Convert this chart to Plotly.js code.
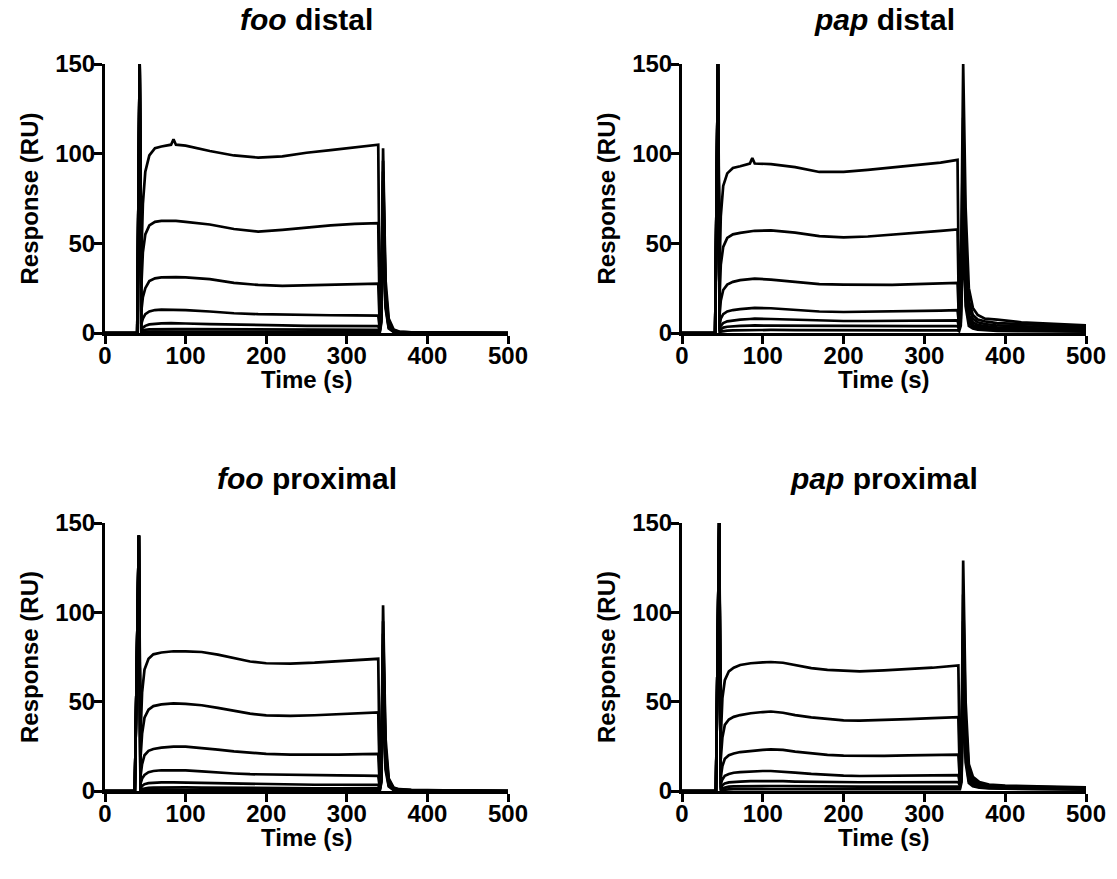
<!DOCTYPE html>
<html>
<head>
<meta charset="utf-8">
<script src="https://cdn.plot.ly/plotly-3.0.1.min.js"></script>
<style>
  html, body { margin: 0; padding: 0; background: #fff; }
  #chart { width: 1117px; height: 879px; }
</style>
</head>
<body>
<div id="chart"></div>
<script>
// ---------- Panel titles & axis labels ----------
const panelTitles = ["<i>foo</i> distal", "<i>pap</i> distal", "<i>foo</i> proximal", "<i>pap</i> proximal"];
const xLabel = "Time (s)";
const yLabel = "Response (RU)";
const xTicks = [0, 100, 200, 300, 400, 500];
const yTicks = [0, 50, 100, 150];

// ---------- foo distal (time, s; response, RU) ----------
const tFooDistal = [0, 30, 40, 43, 45, 47, 50, 55, 62, 70, 82, 85, 88, 100, 130, 160, 190, 220, 250, 280, 310, 339, 341, 343, 345, 348, 352, 358, 365, 380, 420, 460, 500];
const fooDistal1 = [0, 0, 0, 150, 40, 72, 90, 99, 103, 104, 105, 108, 105, 104.5, 101.5, 99, 97.8, 98.5, 100.5, 102, 103.5, 105, 3, 20, 103, 30, 8, 2, 0.8, 0.3, 0.2, 0.1, 0];
const fooDistal2 = [0, 0, 0, 150, 25, 45, 55, 60, 62, 62.5, 62.5, 62.5, 62.5, 62, 60.5, 58, 56.5, 57.5, 58.8, 60, 60.8, 61.3, 3, 18, 96, 25, 6, 1.5, 0.6, 0.3, 0.2, 0.1, 0];
const fooDistal3 = [0, 0, 0, 150, 12, 20, 25, 29, 30.5, 31, 31.2, 31.2, 31.2, 31, 30, 28, 26.8, 26.3, 26.5, 27, 27.2, 27.5, 2.5, 15, 90, 22, 5, 1.2, 0.5, 0.2, 0.1, 0, 0];
const fooDistal4 = [0, 0, 0, 150, 5, 8, 10.5, 12, 12.8, 13, 13, 13, 13, 12.8, 12, 11, 10.5, 10.2, 10, 9.9, 9.8, 9.7, 2, 12, 85, 20, 4, 1, 0.4, 0.2, 0.1, 0, 0];
const fooDistal5 = [0, 0, 0, 150, 2, 3, 4, 4.8, 5.2, 5.4, 5.5, 5.5, 5.5, 5.3, 5, 4.6, 4.3, 4.2, 4, 3.9, 3.8, 3.8, 1.5, 10, 80, 18, 3.5, 0.9, 0.3, 0.1, 0, 0, 0];
const fooDistal6 = [0, 0, 0, 150, 1, 1.4, 1.8, 2, 2.1, 2.2, 2.2, 2.2, 2.2, 2.2, 2.1, 2, 1.9, 1.8, 1.8, 1.7, 1.7, 1.7, 1, 8, 75, 16, 3, 0.8, 0.3, 0.1, 0, 0, 0];
const fooDistal7 = [0, 0, 0, 150, 0.4, 0.6, 0.7, 0.8, 0.8, 0.8, 0.8, 0.8, 0.8, 0.8, 0.8, 0.7, 0.7, 0.7, 0.7, 0.7, 0.7, 0.7, 0.5, 6, 70, 14, 2.5, 0.6, 0.2, 0.1, 0, 0, 0];

// ---------- pap distal ----------
const tPapDistal = [0, 30, 41, 44.5, 46.5, 48, 51, 56, 63, 72, 84, 87, 90, 110, 140, 170, 200, 230, 260, 290, 320, 341, 343, 345, 348, 351, 355, 360, 366, 375, 390, 420, 460, 500];
const papDistal1 = [0, 0, 0, 150, 35, 65, 82, 89, 92, 93, 94.5, 97.5, 94.5, 94.2, 92.5, 89.8, 89.8, 91, 92.2, 93.6, 95, 96.5, 8, 20, 150, 70, 25, 14, 10, 8, 7.5, 6, 5.2, 4.3];
const papDistal2 = [0, 0, 0, 150, 20, 38, 48, 53, 55, 55.8, 56.5, 56.8, 57, 57.2, 56, 54, 53.3, 53.8, 55, 56, 57, 57.7, 6, 15, 120, 50, 18, 10, 7.5, 6.5, 5.5, 5, 4.2, 3.5];
const papDistal3 = [0, 0, 0, 150, 10, 18, 24, 27, 28.5, 29.5, 30.2, 30.3, 30.3, 29.8, 28.5, 27.3, 27, 26.8, 26.8, 27.2, 27.6, 28, 5, 12, 100, 40, 14, 8, 6, 5, 4.2, 3.8, 3.2, 2.8];
const papDistal4 = [0, 0, 0, 150, 4, 8, 10.5, 12, 12.8, 13.3, 13.8, 14, 14, 13.8, 13, 12, 11.7, 11.8, 12, 12.2, 12.5, 12.7, 4, 10, 85, 30, 10, 6, 4.5, 3.8, 3.2, 2.8, 2.4, 2];
const papDistal5 = [0, 0, 0, 150, 2, 4, 5.5, 6.5, 7, 7.5, 7.8, 8, 8, 7.8, 7.3, 6.8, 6.7, 6.7, 6.8, 6.9, 7, 7, 3, 8, 75, 25, 8, 4.5, 3.5, 2.8, 2.3, 2, 1.8, 1.5];
const papDistal6 = [0, 0, 0, 150, 1, 2, 3, 3.5, 3.8, 4, 4.1, 4.2, 4.2, 4.1, 4, 3.8, 3.7, 3.7, 3.7, 3.8, 3.8, 3.8, 2, 6, 65, 20, 6, 3.5, 2.6, 2.1, 1.8, 1.5, 1.3, 1.1];
const papDistal7 = [0, 0, 0, 150, 0.5, 0.8, 1.1, 1.3, 1.5, 1.6, 1.7, 1.7, 1.7, 1.7, 1.6, 1.5, 1.5, 1.5, 1.5, 1.5, 1.5, 1.5, 1, 4, 55, 15, 4, 2.5, 1.8, 1.5, 1.2, 1, 0.9, 0.8];

// ---------- foo proximal ----------
const tFooProximal = [0, 30, 37, 42, 44, 46, 49, 54, 60, 70, 85, 100, 120, 140, 160, 180, 200, 230, 260, 290, 320, 339, 341, 343, 345, 348, 352, 358, 365, 380, 420, 460, 500];
const fooProximal1 = [0, 0, 0, 143, 30, 55, 68, 74, 76.5, 77.5, 78.2, 78.2, 77.8, 76.3, 74.3, 72.5, 71.5, 71.3, 71.8, 72.6, 73.3, 74, 3, 20, 104, 30, 7, 2, 1, 0.6, 0.4, 0.2, 0];
const fooProximal2 = [0, 0, 0, 143, 18, 32, 41, 45.5, 47.5, 48.5, 49, 48.8, 48, 46.5, 44.8, 43.3, 42.3, 42, 42.4, 43, 43.6, 44, 2.5, 16, 95, 25, 6, 1.5, 0.8, 0.5, 0.3, 0.1, 0];
const fooProximal3 = [0, 0, 0, 143, 8, 15, 20, 22.5, 23.5, 24.3, 24.8, 24.8, 24.2, 23.2, 22.2, 21.3, 20.8, 20.4, 20.3, 20.4, 20.6, 20.8, 2, 12, 88, 22, 5, 1.2, 0.6, 0.3, 0.2, 0.1, 0];
const fooProximal4 = [0, 0, 0, 143, 4, 7, 9, 10.5, 11.2, 11.6, 11.7, 11.5, 11, 10.3, 9.8, 9.4, 9.2, 9, 8.8, 8.7, 8.6, 8.5, 1.5, 10, 82, 20, 4, 1, 0.5, 0.2, 0.1, 0, 0];
const fooProximal5 = [0, 0, 0, 143, 1.5, 2.8, 3.8, 4.4, 4.7, 4.8, 4.8, 4.7, 4.5, 4.2, 4, 3.8, 3.7, 3.6, 3.5, 3.5, 3.4, 3.4, 1, 8, 76, 18, 3.5, 0.9, 0.4, 0.2, 0.1, 0, 0];
const fooProximal6 = [0, 0, 0, 143, 0.6, 1.1, 1.5, 1.8, 1.9, 2, 2, 2, 1.9, 1.8, 1.7, 1.6, 1.6, 1.5, 1.5, 1.5, 1.5, 1.5, 0.8, 6, 70, 15, 3, 0.7, 0.3, 0.1, 0, 0, 0];
const fooProximal7 = [0, 0, 0, 143, 0.2, 0.4, 0.5, 0.6, 0.6, 0.7, 0.7, 0.7, 0.7, 0.6, 0.6, 0.6, 0.6, 0.6, 0.6, 0.6, 0.6, 0.6, 0.4, 5, 64, 12, 2.5, 0.5, 0.2, 0.1, 0, 0, 0];

// ---------- pap proximal ----------
const tPapProximal = [0, 30, 42, 46, 48, 50, 53, 58, 64, 72, 85, 100, 110, 125, 140, 160, 180, 200, 220, 250, 280, 310, 342, 344, 346, 348, 351, 355, 360, 368, 380, 400, 440, 470, 500];
const papProximal1 = [0, 0, 0, 150, 30, 52, 62, 67, 69, 70.5, 71.5, 72, 72.2, 71.8, 70.5, 68.8, 67.8, 67.3, 67, 67.5, 68.2, 69, 70.3, 8, 25, 129, 50, 15, 8, 5, 3.6, 3, 2.6, 2.2, 2];
const papProximal2 = [0, 0, 0, 150, 18, 30, 37, 40, 41.5, 42.5, 43.5, 44.2, 44.5, 43.8, 42.5, 41.2, 40.2, 39.5, 39.4, 39.6, 40.2, 40.8, 41.3, 6, 20, 110, 40, 12, 6.5, 4, 3, 2.5, 2.2, 1.9, 1.7];
const papProximal3 = [0, 0, 0, 150, 8, 14, 18, 20, 21, 21.8, 22.5, 23, 23.3, 23, 22, 21, 20.2, 19.8, 19.6, 19.7, 19.9, 20.1, 20.4, 5, 15, 95, 32, 10, 5.5, 3.5, 2.6, 2.2, 1.9, 1.7, 1.5];
const papProximal4 = [0, 0, 0, 150, 4, 6.5, 8.5, 9.5, 10.2, 10.6, 11, 11.2, 11.2, 10.9, 10.3, 9.6, 9, 8.6, 8.4, 8.4, 8.6, 8.8, 8.9, 4, 12, 85, 28, 8, 4.5, 3, 2.2, 1.8, 1.6, 1.4, 1.3];
const papProximal5 = [0, 0, 0, 150, 2, 3.2, 4.2, 4.8, 5.1, 5.3, 5.5, 5.6, 5.6, 5.5, 5.3, 5.1, 5, 4.9, 4.9, 4.9, 5, 5, 5, 3, 9, 75, 24, 6.5, 3.8, 2.6, 2, 1.6, 1.4, 1.2, 1.1];
const papProximal6 = [0, 0, 0, 150, 0.8, 1.5, 2, 2.4, 2.6, 2.7, 2.8, 2.8, 2.8, 2.8, 2.7, 2.6, 2.6, 2.5, 2.5, 2.5, 2.5, 2.5, 2.5, 2, 7, 66, 20, 5.5, 3.2, 2.2, 1.7, 1.4, 1.2, 1.1, 1];
const papProximal7 = [0, 0, 0, 150, 0.3, 0.6, 0.8, 0.9, 1, 1, 1.1, 1.1, 1.1, 1.1, 1, 1, 1, 1, 1, 1, 1, 1, 1, 1, 5, 58, 16, 4.5, 2.6, 1.8, 1.4, 1.2, 1, 0.9, 0.8];

// ---------- assemble ----------
const panels = [
  { t: tFooDistal,   curves: [fooDistal1, fooDistal2, fooDistal3, fooDistal4, fooDistal5, fooDistal6, fooDistal7] },
  { t: tPapDistal,   curves: [papDistal1, papDistal2, papDistal3, papDistal4, papDistal5, papDistal6, papDistal7] },
  { t: tFooProximal, curves: [fooProximal1, fooProximal2, fooProximal3, fooProximal4, fooProximal5, fooProximal6, fooProximal7] },
  { t: tPapProximal, curves: [papProximal1, papProximal2, papProximal3, papProximal4, papProximal5, papProximal6, papProximal7] }
];

const W = 1117, H = 879;
// plot boxes in pixels: [left, right, top, bottom]
const boxes = [[105, 508, 64, 333], [682, 1086, 64, 333], [105, 508, 523, 791], [682, 1086, 523, 791]];

const FONT = "Arial, 'Liberation Sans', Helvetica, sans-serif";
const traces = [];
const layout = {
  width: W, height: H,
  margin: { l: 0, r: 0, t: 0, b: 0 },
  paper_bgcolor: "#ffffff", plot_bgcolor: "#ffffff",
  showlegend: false,
  annotations: []
};

panels.forEach((p, i) => {
  const n = i === 0 ? "" : String(i + 1);
  p.curves.forEach(c => {
    traces.push({
      x: p.t, y: c, type: "scatter", mode: "lines",
      xaxis: "x" + n, yaxis: "y" + n,
      line: { color: "#000000", width: 2.7 },
      hoverinfo: "skip"
    });
  });
  const b = boxes[i];
  const axBase = {
    showline: true, linecolor: "#000", linewidth: 3,
    ticks: "outside", ticklen: 8, tickwidth: 3, tickcolor: "#000",
    showgrid: false, zeroline: false, fixedrange: true,
    tickfont: { family: FONT, size: 24, color: "#000", weight: "bold" }
  };
  layout["xaxis" + n] = Object.assign({}, axBase, {
    domain: [b[0] / W, b[1] / W], range: [0, 500],
    tickvals: xTicks, ticktext: xTicks.map(String),
    ticklabelstandoff: -9,
    anchor: "y" + n
  });
  layout["yaxis" + n] = Object.assign({}, axBase, {
    domain: [1 - b[3] / H, 1 - b[2] / H], range: [0, 150],
    tickvals: yTicks, ticktext: yTicks.map(String),
    ticklabelstandoff: -6,
    anchor: "x" + n
  });
  const cx = (b[0] + b[1]) / 2;
  layout.annotations.push({
    text: "<b>" + panelTitles[i] + "</b>", xref: "paper", yref: "paper",
    x: cx / W, y: 1 - (b[2] - 44) / H, xanchor: "center", yanchor: "middle",
    showarrow: false, font: { family: FONT, size: 30, color: "#000" }
  });
  layout.annotations.push({
    text: "<b>" + xLabel + "</b>", xref: "paper", yref: "paper",
    x: cx / W, y: 1 - (b[3] + 46) / H, xanchor: "center", yanchor: "middle",
    showarrow: false, font: { family: FONT, size: 24, color: "#000" }
  });
  layout.annotations.push({
    text: "<b>" + yLabel + "</b>", xref: "paper", yref: "paper",
    x: (b[0] - 76) / W, y: 1 - ((b[2] + b[3]) / 2) / H, xanchor: "center", yanchor: "middle",
    textangle: -90,
    showarrow: false, font: { family: FONT, size: 24, color: "#000" }
  });
});

Plotly.newPlot("chart", traces, layout, { staticPlot: true, displayModeBar: false });
</script>
</body>
</html>
